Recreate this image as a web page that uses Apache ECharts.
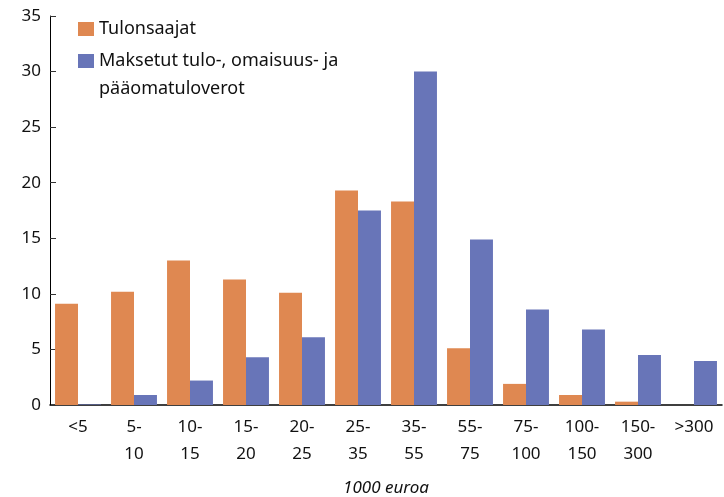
<!DOCTYPE html>
<html>
<head>
<meta charset="utf-8">
<script src="https://cdn.jsdelivr.net/npm/echarts@6/dist/echarts.min.js"></script>
<style>
html,body{margin:0;padding:0;background:#fff;}
#chart{width:724px;height:497px;}
</style>
</head>
<body>
<div id="chart"></div>
<script>
// data
var categories = ['<5', '5-\n10', '10-\n15', '15-\n20', '20-\n25', '25-\n35', '35-\n55', '55-\n75', '75-\n100', '100-\n150', '150-\n300', '>300'];
var tulonsaajat = [9.1, 10.2, 13.0, 11.3, 10.1, 19.3, 18.3, 5.1, 1.9, 0.9, 0.3, 0];
var verot = [0.05, 0.9, 2.2, 4.3, 6.1, 17.5, 30.0, 14.9, 8.6, 6.8, 4.5, 3.95];
var yTicks = [0, 5, 10, 15, 20, 25, 30, 35];
var names = ['Tulonsaajat', '\nMaksetut tulo-, omaisuus- ja\npääomatuloverot'];

var font = 'Noto Sans';
var chart = echarts.init(document.getElementById('chart'));

var legendText = {fontSize: 18, color: '#111', lineHeight: 28, fontFamily: font};

var option = {
    animation: false,
    color: ['#df8851', '#6875b8'],
    textStyle: {fontFamily: font},
    grid: {left: 50, right: 2, top: 16, bottom: 92, outerBoundsMode: 'none', containLabel: false},
    legend: [
        {
            left: 73, top: 10, itemWidth: 16, itemHeight: 14, icon: 'rect',
            textStyle: legendText, data: [names[0]]
        },
        {
            left: 73, top: 14, itemWidth: 16, itemHeight: 14, icon: 'rect',
            textStyle: legendText, data: [names[1]]
        }
    ],
    xAxis: {
        type: 'category',
        data: categories,
        name: '1000 euroa',
        nameLocation: 'middle',
        nameGap: 75,
        nameTextStyle: {fontSize: 17, fontStyle: 'italic', color: '#111', fontFamily: font},
        axisLine: {lineStyle: {color: '#000', width: 1.5}},
        axisTick: {inside: true, length: 6, lineStyle: {color: '#777'}},
        axisLabel: {fontSize: 17, color: '#111', lineHeight: 27, margin: 9, interval: 0}
    },
    yAxis: {
        type: 'value',
        min: yTicks[0],
        max: yTicks[yTicks.length - 1],
        interval: 5,
        splitLine: {show: false},
        axisLine: {show: true, lineStyle: {color: '#000', width: 1}},
        axisTick: {show: true, inside: true, length: 6, lineStyle: {color: '#333'}},
        axisLabel: {fontSize: 17, color: '#111', margin: 9}
    },
    series: [
        {
            name: names[0],
            type: 'bar',
            data: tulonsaajat,
            barGap: '0%',
            barCategoryGap: '18%'
        },
        {
            name: names[1],
            type: 'bar',
            data: verot,
            barGap: '0%',
            barCategoryGap: '18%'
        }
    ]
};
chart.setOption(option);
</script>
</body>
</html>
